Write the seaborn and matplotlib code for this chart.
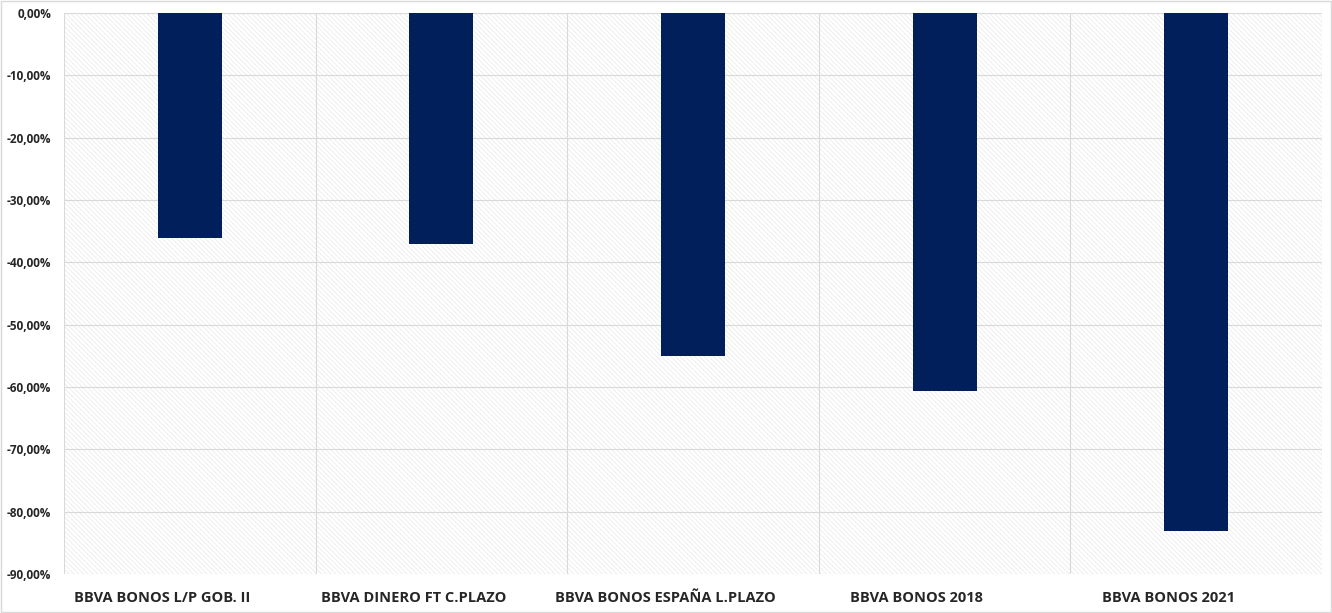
import pandas as pd
import matplotlib.pyplot as plt
import matplotlib.ticker as mticker
import matplotlib.transforms as mtransforms
from matplotlib.patches import Rectangle
import seaborn as sns

# data (returns in %)
fondos = ['BBVA BONOS L/P GOB. II', 'BBVA DINERO FT C.PLAZO', 'BBVA BONOS ESPAÑA L.PLAZO',
          'BBVA BONOS 2018', 'BBVA BONOS 2021']
rentabilidad = [-36.1, -37.1, -55.0, -60.6, -83.1]
y_ticks = [0, -10, -20, -30, -40, -50, -60, -70, -80, -90]

df = pd.DataFrame({'fondo': fondos, 'rent': rentabilidad})

sns.set_style('white')
plt.rcParams['font.family'] = ['Open Sans', 'DejaVu Sans']
plt.rcParams['hatch.linewidth'] = 0.4

fig = plt.figure(figsize=(13.32, 6.13), dpi=100)
ax = fig.add_axes([0.048, 0.0636, 0.9445, 0.9152])

# hatched background like the Excel plot area
ax.add_patch(Rectangle((0, 0), 1, 1, transform=ax.transAxes, facecolor='white',
                       edgecolor='#e3e3e3', linewidth=0, hatch='\\' * 7, zorder=0))

sns.barplot(data=df, x='fondo', y='rent', color='#001f5b', width=0.254,
            saturation=1, linewidth=0, ax=ax, zorder=3)

ax.set_ylim(-90, 0)
ax.set_xlim(-0.5, len(fondos) - 0.5)
ax.set_yticks(y_ticks)
ax.yaxis.set_major_formatter(mticker.FuncFormatter(lambda v, p: f'{v:.2f}'.replace('.', ',') + '%'))
ax.set_xticks(range(len(fondos)))
ax.set_xticklabels(fondos, fontsize=10.5, fontweight='bold')
ax.tick_params(axis='y', labelsize=8.5, length=0, pad=9)
ax.tick_params(axis='x', length=0, pad=12)
for lab in ax.get_yticklabels():
    lab.set_fontweight('bold')
# category labels sit a little left of centre in the original
shift = mtransforms.ScaledTranslation(-28 / 100, 0, fig.dpi_scale_trans)
for lab in ax.get_xticklabels():
    lab.set_transform(lab.get_transform() + shift)

# grid lines: horizontal at ticks, vertical between categories
ax.set_xticks([i - 0.5 for i in range(len(fondos) + 1)], minor=True)
ax.tick_params(axis='x', which='minor', length=0)
ax.grid(axis='y', which='major', color='#d9d9d9', linewidth=0.8, zorder=1)
ax.grid(axis='x', which='minor', color='#d9d9d9', linewidth=0.8, zorder=1)
ax.grid(axis='x', which='major', visible=False)
ax.set_axisbelow(True)
for s in ax.spines.values():
    s.set_visible(False)
ax.set_xlabel('')
ax.set_ylabel('')

# light frame round the whole chart
fig.patches.append(Rectangle((0.001, 0.002), 0.998, 0.996, transform=fig.transFigure,
                             fill=False, edgecolor='#d9d9d9', linewidth=1))

fig.savefig('out.png', dpi=100)
